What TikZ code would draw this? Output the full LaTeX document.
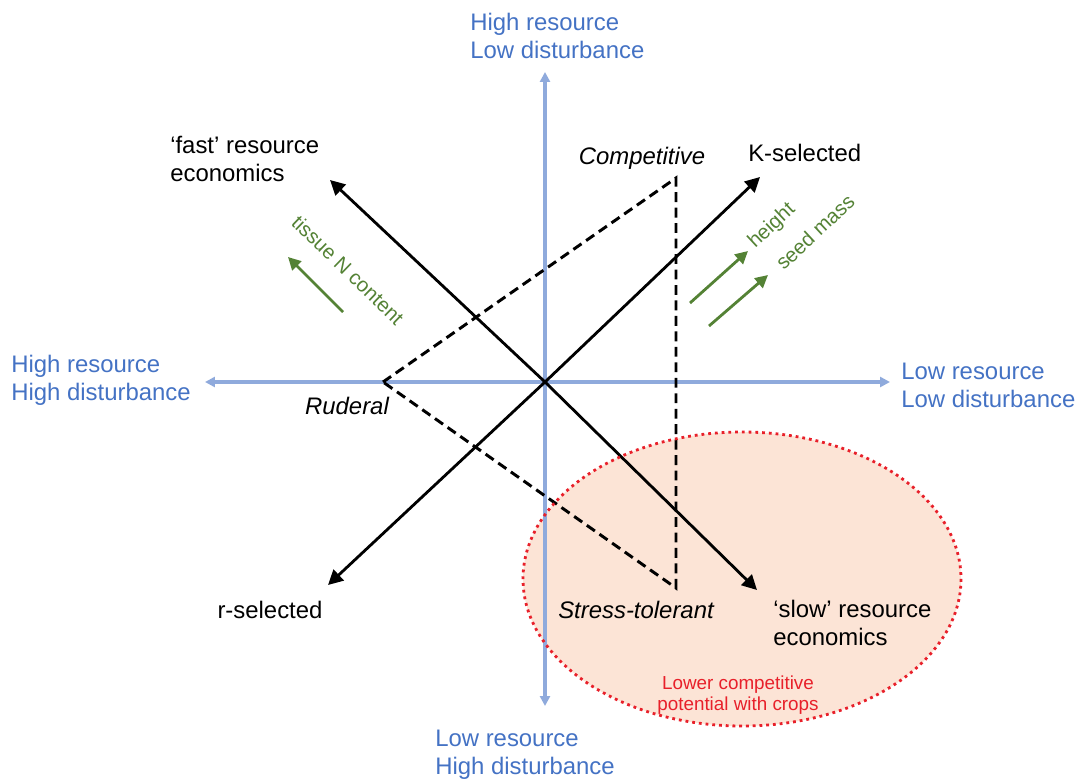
\documentclass[tikz,border=0pt]{standalone}
\usepackage{fontspec}
\setmainfont{Liberation Sans}
\usepackage{xcolor}
\usetikzlibrary{arrows.meta,positioning,calc,backgrounds}
\definecolor{axisblue}{HTML}{8FAADC}
\definecolor{labelblue}{HTML}{4472C4}
\definecolor{traitgreen}{HTML}{548235}
\definecolor{cropred}{HTML}{E8202A}
\definecolor{cropfill}{HTML}{FCE4D6}

\begin{document}
\begin{tikzpicture}[
    x=0.025cm, y=-0.025cm,
    axis/.style={-{Triangle[length=7pt,width=7pt]}, line width=2.2pt, axisblue},
    trade/.style={-{Triangle[length=10.5pt,width=10.5pt]}, line width=2pt, black},
    tri/.style={line width=2.1pt, dash pattern=on 7pt off 4pt, black},
    trend/.style={-{Triangle[length=9pt,width=9pt]}, line width=2pt, traitgreen},
    axislabel/.style={inner sep=0pt, anchor=west, align=left, text=labelblue, font=\fontsize{17}{19.8}\selectfont},
    endlabel/.style={inner sep=0pt, align=left, font=\fontsize{17}{19.8}\selectfont},
    strategy/.style={inner sep=0pt, font=\fontsize{17}{19.8}\selectfont\itshape},
    traitlabel/.style={inner sep=0pt, text=traitgreen, font=\fontsize{14.5}{17}\selectfont},
    zone/.style={cropred, line width=2pt, dash pattern=on 2pt off 2.8pt}
]
    \useasboundingbox (0,0) rectangle (1079,783);

    % Crop zone
    \fill[cropfill] (742,579) ellipse [x radius=219, y radius=147];

    % Axes
    \coordinate (o) at (545,382);
    \coordinate (up) at (545,72);
    \coordinate (down) at (545,706);
    \coordinate (left) at (205,382);
    \coordinate (right) at (890,382);
    \draw[axis] (o) -- (up);
    \draw[axis] (o) -- (down);
    \draw[axis] (o) -- (left);
    \draw[axis] (o) -- (right);

    % CSR triangle
    \coordinate (R) at (383,382);
    \coordinate (C) at (676,178);
    \coordinate (S) at (676,588);
    \draw[tri] (R) -- (C) -- (S) -- cycle;

    % Trade-off lines
    \coordinate (fast) at (330,180);
    \coordinate (slow) at (757,590);
    \coordinate (K) at (760,177);
    \coordinate (r) at (328,585);
    \draw[trade] (o) -- (fast);
    \draw[trade] (o) -- (slow);
    \draw[trade] (o) -- (K);
    \draw[trade] (o) -- (r);

    \draw[zone] (742,579) ellipse [x radius=219, y radius=147];

    % Axis labels
    \node[axislabel] (hrld) at (470,36) {High resource\\Low disturbance};
    \node[axislabel] (hrhd) at (11,380) {High resource\\High disturbance};
    \node[axislabel] (lrld) at (901,385) {Low resource\\Low disturbance};
    \node[axislabel] (lrhd) at (435,755) {Low resource\\High disturbance};

    % Strategy labels
    \node[endlabel, anchor=west] (fastlab) at (170,159) {`fast' resource\\economics};
    \node[endlabel, anchor=west] (slowlab) at (773,623) {`slow' resource\\economics};
    \node[endlabel, anchor=west] (Klab) at (748,153) {K-selected};
    \node[endlabel] (rlab) at (270,610) {r-selected};
    \node[strategy] (Clab) at (642,158) {Competitive};
    \node[strategy] (Rlab) at (347,406) {Ruderal};
    \node[strategy] (Slab) at (636,610) {Stress-tolerant};

    \node[inner sep=0pt, align=center, text=cropred, font=\fontsize{13.4}{15}\selectfont] (croplab) at (738,695) {Lower competitive\\potential with crops};

    % Trait trends
    \coordinate (tN0) at (343,312);
    \coordinate (tN1) at (288,257);
    \draw[trend] (tN0) -- (tN1);
    \node[traitlabel, rotate=-44] (tNlab) at (348,270) {tissue N content};

    \coordinate (h0) at (690,303);
    \coordinate (h1) at (748,251);
    \coordinate (m0) at (709,326);
    \coordinate (m1) at (768,275);
    \draw[trend] (h0) -- (h1);
    \draw[trend] (m0) -- (m1);
    \node[traitlabel, rotate=43] (hlab) at (772,226) {height};
    \node[traitlabel, rotate=43] (mlab) at (815,232) {seed mass};
\end{tikzpicture}
\end{document}
